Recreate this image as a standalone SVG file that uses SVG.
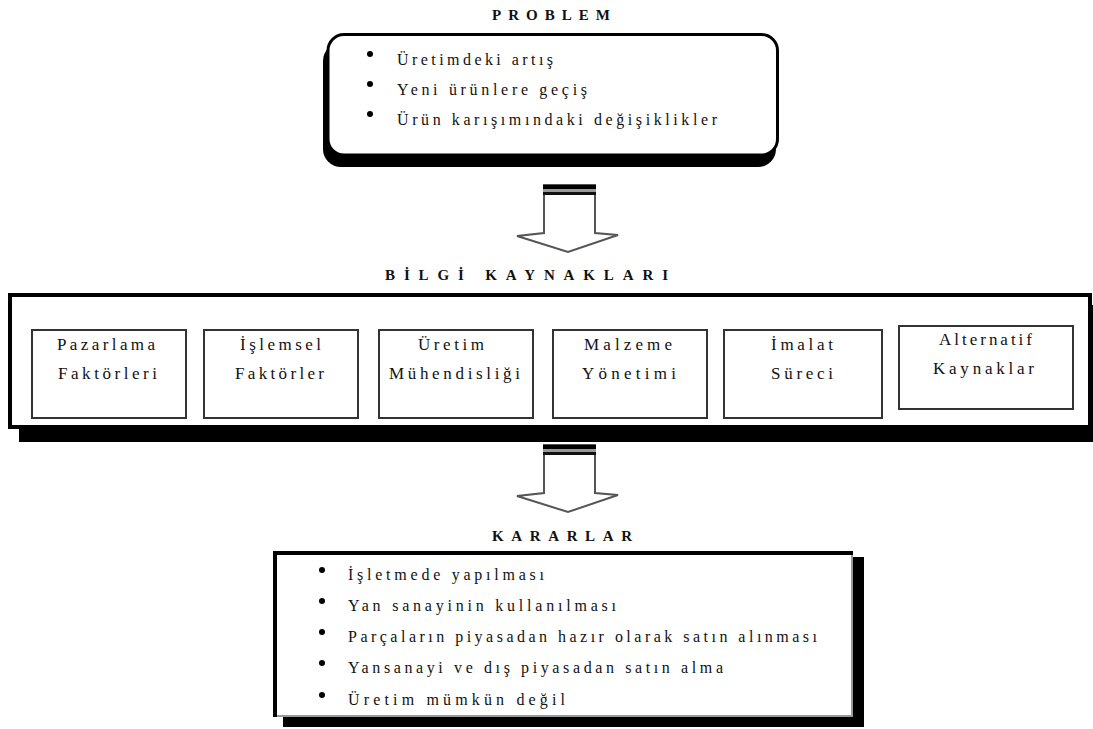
<svg xmlns="http://www.w3.org/2000/svg" xmlns:xlink="http://www.w3.org/1999/xlink" width="1093" height="729" viewBox="0 0 1093 729">
  <style>
    .title { font-family: "Liberation Serif", serif; font-weight: bold; font-size: 15px; fill: #111; }
    .txt { font-family: "Liberation Serif", serif; font-size: 16px; fill: #111; }
    .btxt { font-family: "Liberation Serif", serif; font-size: 17px; fill: #111; }
    .bullet { fill: #000; }
    .inner { fill: #fff; stroke: #333; stroke-width: 2; }
  </style>
  <defs>
    <g id="arrow">
      <polygon points="544,185 595,185 595,233 618,235 568,252 517,236 544,233" fill="#fff" stroke="#555" stroke-width="2" stroke-linejoin="miter"/>
      <rect x="543" y="185" width="53" height="4" fill="#000"/>
      <rect x="543" y="189" width="53" height="3" fill="#999"/>
      <rect x="543" y="192" width="53" height="3" fill="#111"/>
    </g>
  </defs>

  <rect width="1093" height="729" fill="#fff"/>

  <!-- PROBLEM -->
  <g id="problem">
    <text class="title" x="492" y="20" textLength="118" lengthAdjust="spacing">PROBLEM</text>
    <rect x="323" y="43" width="453" height="124" rx="18" fill="#000"/>
    <rect x="328" y="34.5" width="449.5" height="120.5" rx="16" fill="#fff" stroke="#000" stroke-width="3"/>
    <circle class="bullet" cx="370" cy="54" r="3"/>
    <circle class="bullet" cx="370" cy="84" r="3"/>
    <circle class="bullet" cx="370" cy="114" r="3"/>
    <text class="txt" x="397" y="65" textLength="156" lengthAdjust="spacing">Üretimdeki artış</text>
    <text class="txt" x="397" y="95" textLength="190" lengthAdjust="spacing">Yeni ürünlere geçiş</text>
    <text class="txt" x="397" y="125" textLength="320" lengthAdjust="spacing">Ürün karışımındaki değişiklikler</text>
  </g>

  <!-- BİLGİ KAYNAKLARI -->
  <g id="bilgi-kaynaklari">
    <text class="title" x="385" y="280" textLength="283" lengthAdjust="spacing">BİLGİ KAYNAKLARI</text>
    <rect x="19" y="305" width="1080" height="137" fill="#000"/>
    <rect x="10" y="295" width="1080" height="132" fill="#fff"/>
    <line x1="12" y1="426" x2="1088" y2="426" stroke="#999" stroke-width="2"/>
    <rect x="10" y="295" width="1080" height="132" fill="none" stroke="#000" stroke-width="4"/>
  </g>

  <g id="pazarlama">
    <rect class="inner" x="32" y="330" width="154" height="88"/>
    <text class="btxt" x="57" y="350" textLength="98" lengthAdjust="spacing">Pazarlama</text>
    <text class="btxt" x="58" y="379" textLength="99" lengthAdjust="spacing">Faktörleri</text>
  </g>
  <g id="islemsel">
    <rect class="inner" x="204" y="330" width="154" height="88"/>
    <text class="btxt" x="240" y="350" textLength="81" lengthAdjust="spacing">İşlemsel</text>
    <text class="btxt" x="235" y="379" textLength="89" lengthAdjust="spacing">Faktörler</text>
  </g>
  <g id="uretim-muhendisligi">
    <rect class="inner" x="379" y="330" width="154" height="88"/>
    <text class="btxt" x="418" y="350" textLength="66" lengthAdjust="spacing">Üretim</text>
    <text class="btxt" x="389" y="379" textLength="131" lengthAdjust="spacing">Mühendisliği</text>
  </g>
  <g id="malzeme-yonetimi">
    <rect class="inner" x="553" y="330" width="154" height="88"/>
    <text class="btxt" x="584" y="350" textLength="88" lengthAdjust="spacing">Malzeme</text>
    <text class="btxt" x="582" y="379" textLength="94" lengthAdjust="spacing">Yönetimi</text>
  </g>
  <g id="imalat-sureci">
    <rect class="inner" x="724" y="330" width="158" height="88"/>
    <text class="btxt" x="771" y="350" textLength="62" lengthAdjust="spacing">İmalat</text>
    <text class="btxt" x="771" y="379" textLength="62" lengthAdjust="spacing">Süreci</text>
  </g>
  <g id="alternatif-kaynaklar">
    <rect class="inner" x="899" y="326" width="174" height="83"/>
    <text class="btxt" x="939" y="345" textLength="93" lengthAdjust="spacing">Alternatif</text>
    <text class="btxt" x="933" y="374" textLength="101" lengthAdjust="spacing">Kaynaklar</text>
  </g>

  <!-- KARARLAR -->
  <g id="kararlar">
    <text class="title" x="492" y="541" textLength="140" lengthAdjust="spacing">KARARLAR</text>
    <rect x="283" y="557" width="581" height="170" fill="#000"/>
    <rect x="273" y="551" width="580" height="166" fill="#fff"/>
    <path d="M852,553 V716 H275" fill="none" stroke="#999" stroke-width="2"/>
    <path d="M275,717 V553 H853" fill="none" stroke="#000" stroke-width="4"/>
    <circle class="bullet" cx="322" cy="570" r="3"/>
    <circle class="bullet" cx="322" cy="601" r="3"/>
    <circle class="bullet" cx="322" cy="632" r="3"/>
    <circle class="bullet" cx="322" cy="663" r="3"/>
    <circle class="bullet" cx="322" cy="695" r="3"/>
    <text class="txt" x="348" y="580" textLength="196" lengthAdjust="spacing">İşletmede yapılması</text>
    <text class="txt" x="348" y="611" textLength="268" lengthAdjust="spacing">Yan sanayinin kullanılması</text>
    <text class="txt" x="348" y="642" textLength="469" lengthAdjust="spacing">Parçaların piyasadan hazır olarak satın alınması</text>
    <text class="txt" x="348" y="673" textLength="375" lengthAdjust="spacing">Yansanayi ve dış piyasadan satın alma</text>
    <text class="txt" x="348" y="705" textLength="217" lengthAdjust="spacing">Üretim mümkün değil</text>
  </g>

  <!-- connectors -->
  <g id="connectors">
    <use xlink:href="#arrow"/>
    <use xlink:href="#arrow" transform="translate(0,260)"/>
  </g>
</svg>
